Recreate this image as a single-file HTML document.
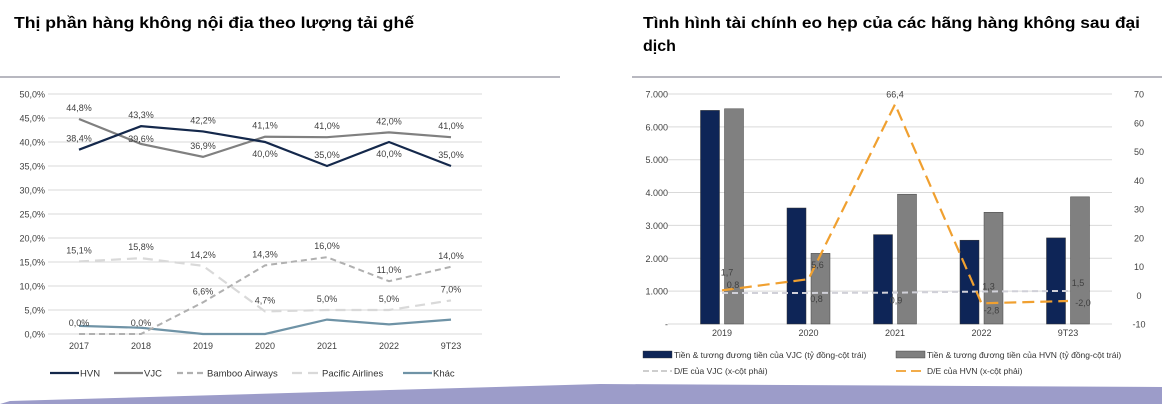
<!DOCTYPE html>
<html><head><meta charset="utf-8"><style>
html,body{margin:0;padding:0;background:#fff;}
svg{display:block;font-family:"Liberation Sans",Arial,sans-serif;}
</style></head><body>
<svg id="c" width="1162" height="404" viewBox="0 0 1162 404" xmlns="http://www.w3.org/2000/svg">
<text x="14" y="28" font-size="16" font-weight="bold" fill="#000" textLength="400" lengthAdjust="spacingAndGlyphs">Thị phần hàng không nội địa theo lượng tải ghế</text>
<text x="643" y="28" font-size="16" font-weight="bold" fill="#000" textLength="497" lengthAdjust="spacingAndGlyphs">Tình hình tài chính eo hẹp của các hãng hàng không sau đại</text>
<text x="643" y="51" font-size="16" font-weight="bold" fill="#000">dịch</text>
<line x1="0" y1="77" x2="560" y2="77" stroke="#b8b8c0" stroke-width="2"/>
<line x1="632" y1="77" x2="1162" y2="77" stroke="#b8b8c0" stroke-width="2"/>
<polygon points="0,404 10,401 600,384 1162,387 1162,404" fill="#9c9cc9"/>
<g id="left"></g><g id="right"></g>
</svg>
<script>
const NS='http://www.w3.org/2000/svg';
function mk(p,t,a,txt){const e=document.createElementNS(NS,t);for(const k in a)e.setAttribute(k,a[k]);if(txt!==undefined)e.textContent=txt;p.appendChild(e);return e;}
const fmt=v=>v.toFixed(1).replace('.',',');

// LEFT CHART DATA
const years=['2017','2018','2019','2020','2021','2022','9T23'];
const hvn=[38.4,43.3,42.2,40.0,35.0,40.0,35.0];
const vjc=[44.8,39.6,36.9,41.1,41.0,42.0,41.0];
const bamboo=[0,0,6.6,14.3,16.0,11.0,14.0];
const pacific=[15.1,15.8,14.2,4.7,5.0,5.0,7.0];
const khac=[1.7,1.3,0,0,3.0,2.0,3.0];
const leftTicks=[0,5,10,15,20,25,30,35,40,45,50];

// RIGHT CHART DATA
const periods=['2019','2020','2021','2022','9T23'];
const cashVJC=[6500,3530,2720,2550,2620];
const cashHVN=[6550,2150,3950,3400,3870];
const deVJC=[0.8,0.8,0.9,1.3,1.5];
const deHVN=[1.7,5.6,66.4,-2.8,-2.0];
const leftAxisTicks=[0,1000,2000,3000,4000,5000,6000,7000];
const rightAxisTicks=[-10,0,10,20,30,40,50,60,70];

// left chart
(function(){
const g=document.getElementById('left');
const y=v=>334-v*4.8, x=i=>79+i*62;
leftTicks.forEach(t=>{
 const l=mk(g,'line',{x1:48,x2:482,y1:y(t),y2:y(t),stroke:'#d9d9d9','stroke-width':1});
 
 
 const tx=mk(g,'text',{x:45,y:y(t)+3.5,'font-size':9,fill:'#404040','text-anchor':'end'},fmt(t)+'%');
 
 
});
years.forEach((c,i)=>{
 const tx=mk(g,'text',{x:x(i),y:349,'font-size':9,fill:'#404040','text-anchor':'middle'},c);
 
 
});
const series=[
 {d:khac,c:'#6f93a6',w:2.2,dash:'',n:'khac-line'},
 {d:pacific,c:'#d9d9d9',w:2.2,dash:'10,6',n:'pacific-line'},
 {d:bamboo,c:'#b0b0b0',w:2,dash:'6,4',n:'bamboo-line'},
 {d:vjc,c:'#808080',w:2.2,dash:'',n:'vjc-line'},
 {d:hvn,c:'#14284b',w:2.2,dash:'',n:'hvn-line'}
];
series.forEach(s=>{
 const p=mk(g,'polyline',{points:s.d.map((v,i)=>x(i)+','+y(v)).join(' '),fill:'none',stroke:s.c,'stroke-width':s.w,'stroke-dasharray':s.dash});
 
 
});
const hvnOff=[-8,-8,-8,15,-8,15,-8], vjcOff=[-8,-2,-8,-8,-8,-8,-8];
hvn.forEach((v,i)=>{
 const t=mk(g,'text',{x:x(i),y:y(v)+hvnOff[i],'font-size':9,fill:'#404040','text-anchor':'middle'},fmt(v)+'%');
 
 
});
vjc.forEach((v,i)=>{
 const t=mk(g,'text',{x:x(i),y:y(v)+vjcOff[i],'font-size':9,fill:'#404040','text-anchor':'middle'},fmt(v)+'%');
 
 
});
bamboo.forEach((v,i)=>{
 const t=mk(g,'text',{x:x(i),y:y(v)-8,'font-size':9,fill:'#404040','text-anchor':'middle'},fmt(v)+'%');
 
 
});
pacific.forEach((v,i)=>{
 const t=mk(g,'text',{x:x(i),y:y(v)-8,'font-size':9,fill:'#404040','text-anchor':'middle'},fmt(v)+'%');
 
 
});
const leg=[['HVN','#14284b',''],['VJC','#808080',''],['Bamboo Airways','#b0b0b0','6,4'],['Pacific Airlines','#d9d9d9','10,6'],['Khác','#6f93a6','']];
const lx=[50,114,177,292,403];
leg.forEach((L,i)=>{
 const gg=mk(g,'g',{});
 
 
 mk(gg,'line',{x1:lx[i],x2:lx[i]+29,y1:373,y2:373,stroke:L[1],'stroke-width':2.2,'stroke-dasharray':L[2]});
 mk(gg,'text',{x:lx[i]+30,y:376.5,'font-size':9.5,fill:'#333'},L[0]);
});
})();

// right chart
(function(){
const g=document.getElementById('right');
const yl=v=>324-v*0.03286, yr=v=>295.25-v*2.875, x=i=>722+i*86.5;
leftAxisTicks.forEach(t=>{
 const l=mk(g,'line',{x1:668,x2:1112,y1:yl(t),y2:yl(t),stroke:'#d9d9d9','stroke-width':1});
 
 
 const tx=mk(g,'text',{x:668,y:yl(t)+3.5,'font-size':9,fill:'#404040','text-anchor':'end'},t===0?'-':(t/1000).toFixed(3));
 
 
});
rightAxisTicks.forEach(t=>{
 const tx=mk(g,'text',{x:1139,y:yr(t)+3.5,'font-size':9,fill:'#404040','text-anchor':'middle'},String(t));
 
 
});
periods.forEach((c,i)=>{
 const tx=mk(g,'text',{x:x(i),y:336,'font-size':9,fill:'#404040','text-anchor':'middle'},c);
 
 
 const b1=mk(g,'rect',{x:x(i)-12-9.5,y:yl(cashVJC[i]),width:19,height:324-yl(cashVJC[i]),fill:'#0e2557',stroke:'#333','stroke-width':0.5});
 
 
 const b2=mk(g,'rect',{x:x(i)+12-9.5,y:yl(cashHVN[i]),width:19,height:324-yl(cashHVN[i]),fill:'#808080',stroke:'#444','stroke-width':0.5});
 
 
});
const l1=mk(g,'polyline',{points:deVJC.map((v,i)=>x(i)+','+yr(v)).join(' '),fill:'none',stroke:'#d0d0d8','stroke-width':2,'stroke-dasharray':'6,4'});


const l2=mk(g,'polyline',{points:deHVN.map((v,i)=>x(i)+','+yr(v)).join(' '),fill:'none',stroke:'#f0a030','stroke-width':2.2,'stroke-dasharray':'12,6'});


const vOff=[[11,-5],[8,9],[1,11],[7,-2],[10,-5]];
deVJC.forEach((v,i)=>{
 const t=mk(g,'text',{x:x(i)+vOff[i][0],y:yr(v)+vOff[i][1],'font-size':9,fill:'#404040','text-anchor':'middle'},fmt(v));
 
 
});
const hOff=[[5,-15],[9,-11],[0,-7],[10,10],[15,5]];
deHVN.forEach((v,i)=>{
 const t=mk(g,'text',{x:x(i)+hOff[i][0],y:yr(v)+hOff[i][1],'font-size':9,fill:'#404040','text-anchor':'middle'},fmt(v));
 
 
});
const leg=[
 ['Tiền & tương đương tiền của VJC (tỷ đồng-cột trái)','#0e2557','bar',643,355],
 ['Tiền & tương đương tiền của HVN (tỷ đồng-cột trái)','#808080','bar',896,355],
 ['D/E của VJC (x-cột phải)','#c8c8c8','6,3',643,371],
 ['D/E của HVN (x-cột phải)','#f0a030','10,5',896,371]];
leg.forEach(L=>{
 const gg=mk(g,'g',{});
 
 
 if(L[2]==='bar') mk(gg,'rect',{x:L[3],y:L[4]-4,width:29,height:7,fill:L[1],stroke:'#333','stroke-width':0.4});
 else mk(gg,'line',{x1:L[3],x2:L[3]+29,y1:L[4],y2:L[4],stroke:L[1],'stroke-width':1.8,'stroke-dasharray':L[2]});
 mk(gg,'text',{x:L[3]+31,y:L[4]+3,'font-size':8.5,fill:'#333'},L[0]);
});
})();
</script>
</body></html>
